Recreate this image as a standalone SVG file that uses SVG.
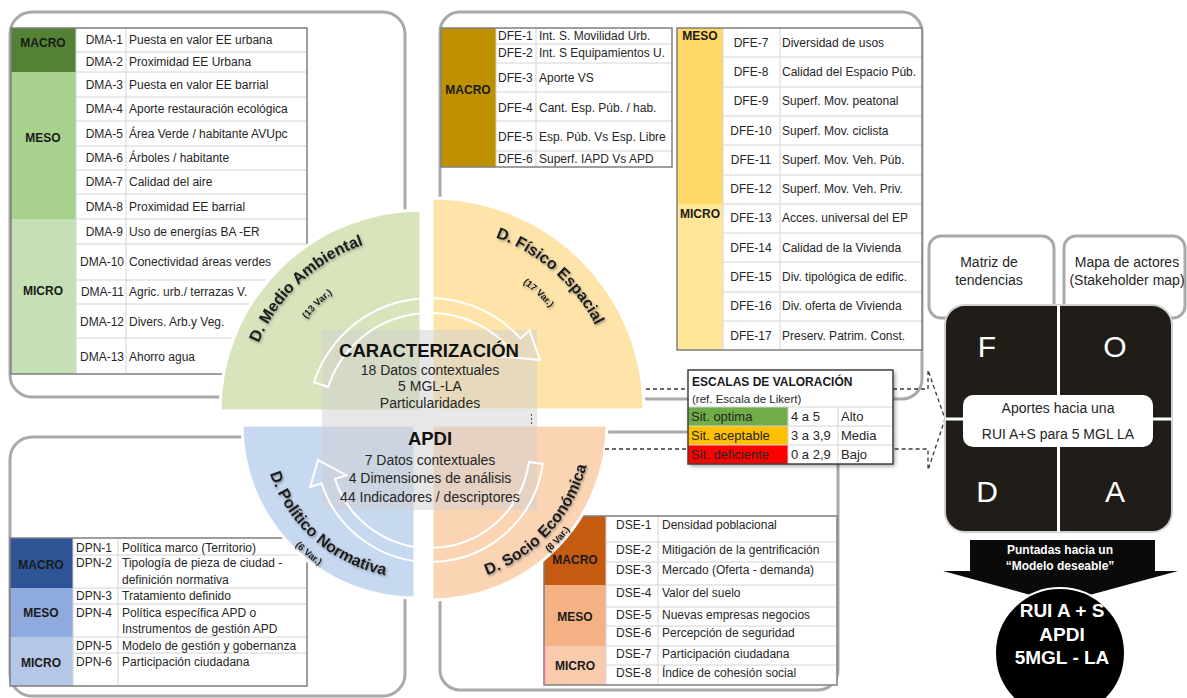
<svg xmlns="http://www.w3.org/2000/svg" width="1187" height="698" viewBox="0 0 1187 698">
<defs>
<style>
.pn{fill:none;stroke:#a9a9a9;stroke-width:3}
.bg{fill:#fff}
.ln{stroke:#d4d4d4;stroke-width:1;fill:none}
.ob{fill:none;stroke:#7f7f7f;stroke-width:1.5}
text{font-family:"Liberation Sans",Arial,sans-serif}
.t{font-size:12px;fill:#262626}
.tc{font-size:12px;fill:#262626;text-anchor:middle}
.te{font-size:12px;fill:#262626;text-anchor:end}
.lv{font-size:12px;font-weight:bold;fill:#1a1a1a;text-anchor:middle}
.q{stroke:#fff;stroke-width:3}
.arc{fill:none;stroke:#fff;stroke-width:2}
.lab{font-size:16px;font-weight:bold;fill:#1a1a1a}
.var{font-size:9.5px;font-weight:bold;fill:#1a1a1a}
.ct{font-size:14px;fill:#262626;text-anchor:middle}
.ctb{font-size:18.5px;font-weight:bold;fill:#111;text-anchor:middle}
.dash{fill:none;stroke:#3a3a3a;stroke-width:1.3;stroke-dasharray:4 3}
.st{font-size:13px;fill:#262626}
.w{fill:#fff;text-anchor:middle}
</style>
<filter id="sh" x="-20%" y="-20%" width="140%" height="140%"><feDropShadow dx="1" dy="1.5" stdDeviation="1.2" flood-color="#555" flood-opacity="0.6"/></filter>
<filter id="bs" x="-10%" y="-10%" width="130%" height="130%"><feDropShadow dx="2" dy="2" stdDeviation="2" flood-color="#000" flood-opacity="0.4"/></filter>
<path id="pMA" d="M245,411 A176,176 0 0 1 421,235"/>
<path id="pMAv" d="M274,411 A147,147 0 0 1 421,264"/>
<path id="pFE" d="M432,226 A184,184 0 0 1 616,410"/>
<path id="pFEv" d="M432,254 A156,156 0 0 1 588,410"/>
<path id="pPN" d="M262,425 A153,153 0 0 0 415,578"/>
<path id="pPNv" d="M245,425 A170,170 0 0 0 415,595"/>
<path id="pSE" d="M432,585 A160,160 0 0 0 592,425"/>
<path id="pSEv" d="M432,598 A173,173 0 0 0 605,425"/>
</defs>
<rect width="1187" height="698" fill="#fff"/>

<!-- panels -->
<g id="paneles">
<rect class="pn" x="10" y="12" width="395" height="385" rx="22"/>
<rect class="pn" x="440" y="12" width="482" height="387" rx="20"/>
<rect class="pn" x="10" y="437" width="395" height="259" rx="22"/>
<rect class="pn" x="440" y="432" width="398" height="258" rx="20"/>
</g>

<!-- DMA table -->
<g id="tabla-dma">
<rect class="bg" x="11" y="28" width="296" height="346"/>
<rect x="11" y="28" width="65" height="44" fill="#548235"/>
<rect x="11" y="72" width="65" height="147" fill="#a9d18e"/>
<rect x="11" y="219" width="65" height="155" fill="#c5e0b4"/>
<path class="ln" d="M76,52H307M76,72H307M76,97H307M76,121H307M76,146H307M76,170H307M76,194H307M76,219H307M76,244H307M76,280H307M76,304H307M76,338H307M126,28V374M76,28V374"/>
<rect class="ob" x="11" y="28" width="296" height="346"/>
<text class="lv" x="43" y="47">MACRO</text>
<text class="lv" x="43" y="142">MESO</text>
<text class="lv" x="43" y="295">MICRO</text>
<text class="te" x="123" y="44">DMA-1</text><text class="t" x="129" y="44">Puesta en valor EE urbana</text>
<text class="te" x="123" y="66">DMA-2</text><text class="t" x="129" y="66">Proximidad EE Urbana</text>
<text class="te" x="123" y="89">DMA-3</text><text class="t" x="129" y="89">Puesta en valor EE barrial</text>
<text class="te" x="123" y="113">DMA-4</text><text class="t" x="129" y="113">Aporte restauración ecológica</text>
<text class="te" x="123" y="138">DMA-5</text><text class="t" x="129" y="138">Área Verde / habitante AVUpc</text>
<text class="te" x="123" y="162">DMA-6</text><text class="t" x="129" y="162">Árboles / habitante</text>
<text class="te" x="123" y="186">DMA-7</text><text class="t" x="129" y="186">Calidad del aire</text>
<text class="te" x="123" y="211">DMA-8</text><text class="t" x="129" y="211">Proximidad EE barrial</text>
<text class="te" x="123" y="236">DMA-9</text><text class="t" x="129" y="236">Uso de energías BA -ER</text>
<text class="te" x="124" y="266">DMA-10</text><text class="t" x="129" y="266">Conectividad áreas verdes</text>
<text class="te" x="124" y="296">DMA-11</text><text class="t" x="129" y="296">Agric. urb./ terrazas V.</text>
<text class="te" x="124" y="326">DMA-12</text><text class="t" x="129" y="326">Divers. Arb.y Veg.</text>
<text class="te" x="124" y="361">DMA-13</text><text class="t" x="129" y="361">Ahorro agua</text>
</g>

<!-- DFE macro table -->
<g id="tabla-dfe-macro">
<rect class="bg" x="441" y="28" width="231" height="139"/>
<rect x="441" y="28" width="55" height="139" fill="#bf9000"/>
<path class="ln" d="M496,44H672M496,63H672M496,92H672M496,121H672M496,151H672M536,28V167M496,28V167"/>
<rect class="ob" x="441" y="28" width="231" height="139"/>
<text class="lv" x="468" y="94">MACRO</text>
<text class="t" x="498" y="40">DFE-1</text><text class="t" x="539" y="40">Int. S. Movilidad Urb.</text>
<text class="t" x="498" y="57">DFE-2</text><text class="t" x="539" y="57">Int. S Equipamientos U.</text>
<text class="t" x="498" y="82">DFE-3</text><text class="t" x="539" y="82">Aporte VS</text>
<text class="t" x="498" y="112">DFE-4</text><text class="t" x="539" y="112">Cant. Esp. Púb. / hab.</text>
<text class="t" x="498" y="141">DFE-5</text><text class="t" x="539" y="141">Esp. Púb. Vs Esp. Libre</text>
<text class="t" x="498" y="163">DFE-6</text><text class="t" x="539" y="163">Superf. IAPD Vs APD</text>
</g>

<!-- DFE meso/micro table -->
<g id="tabla-dfe">
<rect class="bg" x="677" y="28" width="245" height="322"/>
<rect x="677" y="28" width="46" height="176" fill="#ffd966"/>
<rect x="677" y="204" width="46" height="146" fill="#ffe699"/>
<path class="ln" d="M723,57H922M723,87H922M723,116H922M723,145H922M723,175H922M723,204H922M723,233H922M723,262H922M723,292H922M723,321H922M780,28V350M723,28V350"/>
<rect class="ob" x="677" y="28" width="245" height="322"/>
<text class="lv" x="700" y="40">MESO</text>
<text class="lv" x="700" y="218">MICRO</text>
<text class="tc" x="751" y="47">DFE-7</text><text class="t" x="782" y="47">Diversidad de usos</text>
<text class="tc" x="751" y="76">DFE-8</text><text class="t" x="782" y="76">Calidad del Espacio Púb.</text>
<text class="tc" x="751" y="105">DFE-9</text><text class="t" x="782" y="105">Superf. Mov. peatonal</text>
<text class="tc" x="751" y="135">DFE-10</text><text class="t" x="782" y="135">Superf. Mov. ciclista</text>
<text class="tc" x="751" y="164">DFE-11</text><text class="t" x="782" y="164">Superf. Mov. Veh. Púb.</text>
<text class="tc" x="751" y="193">DFE-12</text><text class="t" x="782" y="193">Superf. Mov. Veh. Priv.</text>
<text class="tc" x="751" y="222">DFE-13</text><text class="t" x="782" y="222">Acces. universal del EP</text>
<text class="tc" x="751" y="252">DFE-14</text><text class="t" x="782" y="252">Calidad de la Vivienda</text>
<text class="tc" x="751" y="281">DFE-15</text><text class="t" x="782" y="281">Div. tipológica de edific.</text>
<text class="tc" x="751" y="310">DFE-16</text><text class="t" x="782" y="310">Div. oferta de Vivienda</text>
<text class="tc" x="751" y="340">DFE-17</text><text class="t" x="782" y="340">Preserv. Patrim. Const.</text>
</g>

<!-- DPN table -->
<g id="tabla-dpn">
<rect class="bg" x="10" y="538" width="297" height="148"/>
<rect x="10" y="538" width="63" height="50" fill="#2f5597"/>
<rect x="10" y="588" width="63" height="49" fill="#8faadc"/>
<rect x="10" y="637" width="63" height="49" fill="#b4c7e7"/>
<path class="ln" d="M73,555H307M73,588H307M73,604H307M73,637H307M73,653H307M118,538V686M73,538V686"/>
<rect class="ob" x="10" y="538" width="297" height="148"/>
<text class="lv" x="41" y="569">MACRO</text>
<text class="lv" x="41" y="617">MESO</text>
<text class="lv" x="41" y="667">MICRO</text>
<text class="t" x="76" y="552">DPN-1</text><text class="t" x="122" y="552">Política marco (Territorio)</text>
<text class="t" x="76" y="567">DPN-2</text><text class="t" x="122" y="567">Tipología de pieza de ciudad -</text>
<text class="t" x="122" y="584">definición normativa</text>
<text class="t" x="76" y="600">DPN-3</text><text class="t" x="122" y="600">Tratamiento definido</text>
<text class="t" x="76" y="617">DPN-4</text><text class="t" x="122" y="617">Política específica APD o</text>
<text class="t" x="122" y="633">Instrumentos de gestión APD</text>
<text class="t" x="76" y="650">DPN-5</text><text class="t" x="122" y="650">Modelo de gestión y gobernanza</text>
<text class="t" x="76" y="666">DPN-6</text><text class="t" x="122" y="666">Participación ciudadana</text>
</g>

<!-- DSE table -->
<g id="tabla-dse">
<rect class="bg" x="544" y="516" width="293" height="169"/>
<rect x="544" y="516" width="62" height="69" fill="#c55a11"/>
<rect x="544" y="585" width="62" height="61" fill="#f4b183"/>
<rect x="544" y="646" width="62" height="39" fill="#f8cbad"/>
<path class="ln" d="M606,542H837M606,562H837M606,585H837M606,607H837M606,626H837M606,646H837M606,665H837M658,516V685M606,516V685"/>
<rect class="ob" x="544" y="516" width="293" height="169"/>
<path d="M544.5,646V685" stroke="#e86fa6" stroke-width="1.5"/>
<text class="lv" x="575" y="564">MACRO</text>
<text class="lv" x="575" y="621">MESO</text>
<text class="lv" x="575" y="670">MICRO</text>
<text class="t" x="616" y="529">DSE-1</text><text class="t" x="662" y="529">Densidad poblacional</text>
<text class="t" x="616" y="554">DSE-2</text><text class="t" x="662" y="554">Mitigación de la gentrificación</text>
<text class="t" x="616" y="574">DSE-3</text><text class="t" x="662" y="574">Mercado (Oferta - demanda)</text>
<text class="t" x="616" y="597">DSE-4</text><text class="t" x="662" y="597">Valor del suelo</text>
<text class="t" x="616" y="619">DSE-5</text><text class="t" x="662" y="619">Nuevas empresas  negocios</text>
<text class="t" x="616" y="637">DSE-6</text><text class="t" x="662" y="637">Percepción de seguridad</text>
<text class="t" x="616" y="658">DSE-7</text><text class="t" x="662" y="658">Participación ciudadana</text>
<text class="t" x="616" y="677">DSE-8</text><text class="t" x="662" y="677">Índice de cohesión social</text>
</g>

<!-- central wheel -->
<g id="rueda">
<path class="q" fill="#d8e4bc" d="M421,411 L220,411 A201,201 0 0 1 421,210 Z"/>
<path class="q" fill="#fee4a9" d="M432,410 L432,198 A212,212 0 0 1 644,410 Z"/>
<path class="q" fill="#c6d9f1" d="M415,425 L242,425 A173,173 0 0 0 415,598 Z"/>
<path class="q" fill="#fbd4b4" d="M432,425 L432,600 A175,175 0 0 0 607,425 Z"/>
<rect x="322" y="330" width="215" height="180" fill="#d0d0d0" opacity="0.5"/>
<path class="arc" d="M314,382.3 A122,122 0 0 1 520.6,338.4 L529.6,330.3 L540,360 L500.6,356.4 L509.5,348.4 A107,107 0 0 0 328.2,386.9 Z"/>
<path class="arc" d="M542.9,463.9 A114,114 0 0 1 321.6,483.2 L310.2,486.9 L318,460 L346.3,475.2 L334.9,478.9 A100,100 0 0 0 529,461.9 Z"/>
<line x1="531.5" y1="414" x2="531.5" y2="424" stroke="#555" stroke-width="1" stroke-dasharray="2 2"/>
</g>

<g id="etiquetas" filter="url(#sh)">
<text class="lab"><textPath href="#pMA" startOffset="52%" text-anchor="middle">D. Medio Ambiental</textPath></text>
<text class="var"><textPath href="#pMAv" startOffset="51%" text-anchor="middle">(13 Var.)</textPath></text>
<text class="lab"><textPath href="#pFE" startOffset="46%" text-anchor="middle">D. Físico Espacial</textPath></text>
<text class="var"><textPath href="#pFEv" startOffset="47%" text-anchor="middle">(17 Var.)</textPath></text>
<text class="lab"><textPath href="#pPN" startOffset="54%" text-anchor="middle">D. Político  Normativa</textPath></text>
<text class="var"><textPath href="#pPNv" startOffset="56%" text-anchor="middle">(6 Var.)</textPath></text>
<text class="lab"><textPath href="#pSE" startOffset="53%" text-anchor="middle">D. Socio Económica</textPath></text>
<text class="var"><textPath href="#pSEv" startOffset="53%" text-anchor="middle">(8 Var.)</textPath></text>
</g>

<g id="centro">
<text class="ctb" x="429" y="357">CARACTERIZACIÓN</text>
<text class="ct" x="430" y="375" font-size="13">18 Datos contextuales</text>
<text class="ct" x="430" y="391" font-size="13">5 MGL-LA</text>
<text class="ct" x="430" y="408" font-size="13">Particularidades</text>
<text class="ctb" x="430" y="445">APDI</text>
<text class="ct" x="430" y="465">7 Datos contextuales</text>
<text class="ct" x="430" y="483">4 Dimensiones de análisis</text>
<text class="ct" x="430" y="502">44 Indicadores / descriptores</text>
</g>

<!-- connectors -->
<g id="conectores">
<path class="dash" d="M646,389H688M605,449H688M893,389H928V370L945,419L928,470V449H893"/>
</g>

<!-- scale table -->
<g id="escalas">
<rect x="688" y="370" width="205" height="94" fill="#fff" filter="url(#bs)"/>
<rect x="688" y="407" width="100" height="19" fill="#70ad47"/>
<rect x="688" y="426" width="100" height="19" fill="#ffc000"/>
<rect x="688" y="445" width="100" height="19" fill="#ff0000"/>
<path class="ln" d="M688,407H893M688,426H893M688,445H893M788,407V464M838,407V464"/>
<rect x="688" y="370" width="205" height="94" fill="none" stroke="#404040" stroke-width="1.5"/>
<text x="692" y="386" font-size="12" font-weight="bold" fill="#1a1a1a">ESCALAS DE VALORACIÓN</text>
<text x="692" y="403" font-size="11.5" fill="#262626">(ref. Escala de Likert)</text>
<text class="st" x="691" y="421">Sit. optima</text><text class="st" x="791" y="421">4 a 5</text><text class="st" x="841" y="421">Alto</text>
<text class="st" x="691" y="440">Sit. aceptable</text><text class="st" x="791" y="440">3 a 3,9</text><text class="st" x="841" y="440">Media</text>
<text class="st" x="691" y="459">Sit. deficiente</text><text class="st" x="791" y="459">0 a 2,9</text><text class="st" x="841" y="459">Bajo</text>
</g>

<!-- right side -->
<g id="matriz">
<rect x="929" y="236" width="125" height="82" rx="12" fill="#fff" stroke="#a9a9a9" stroke-width="3"/>
<text x="989" y="267" font-size="14" fill="#262626" text-anchor="middle">Matriz de</text>
<text x="989" y="285" font-size="14" fill="#262626" text-anchor="middle">tendencias</text>
</g>
<g id="mapa">
<rect x="1064" y="236" width="121" height="82" rx="12" fill="#fff" stroke="#a9a9a9" stroke-width="3"/>
<text x="1127" y="267" font-size="14" fill="#262626" text-anchor="middle">Mapa de actores</text>
<text x="1127" y="285" font-size="14" fill="#262626" text-anchor="middle">(Stakeholder map)</text>
</g>
<g id="foda">
<rect x="945" y="305" width="227" height="227" rx="20" fill="#201c17" stroke="#d0d0d0" stroke-width="2"/>
<path d="M1058.5,305V532M945,419H1172" stroke="#fff" stroke-width="3"/>
<text class="w" x="987" y="357" font-size="30">F</text>
<text class="w" x="1115" y="357" font-size="30">O</text>
<text class="w" x="987" y="502" font-size="30">D</text>
<text class="w" x="1115" y="502" font-size="30">A</text>
<rect x="963" y="395" width="190" height="52" rx="10" fill="#fff"/>
<text x="1058" y="413" font-size="14" fill="#262626" text-anchor="middle">Aportes hacia una</text>
<text x="1058" y="439" font-size="14" fill="#262626" text-anchor="middle">RUI A+S para 5 MGL LA</text>
</g>
<g id="modelo">
<polygon points="970,540 1155,540 1155,571 1178,571 1060,603 943,571 970,571" fill="#0a0a0a"/>
<text class="w" x="1060" y="554" font-size="12" font-weight="bold">Puntadas hacia un</text>
<text class="w" x="1060" y="570" font-size="12" font-weight="bold">“Modelo deseable”</text>
<circle cx="1060" cy="653" r="65" fill="#000" stroke="#fff" stroke-width="2"/>
<text class="w" x="1062" y="617" font-size="19" font-weight="bold">RUI A + S</text>
<text class="w" x="1062" y="641" font-size="19" font-weight="bold">APDI</text>
<text class="w" x="1062" y="664" font-size="19" font-weight="bold">5MGL - LA</text>
</g>
</svg>
